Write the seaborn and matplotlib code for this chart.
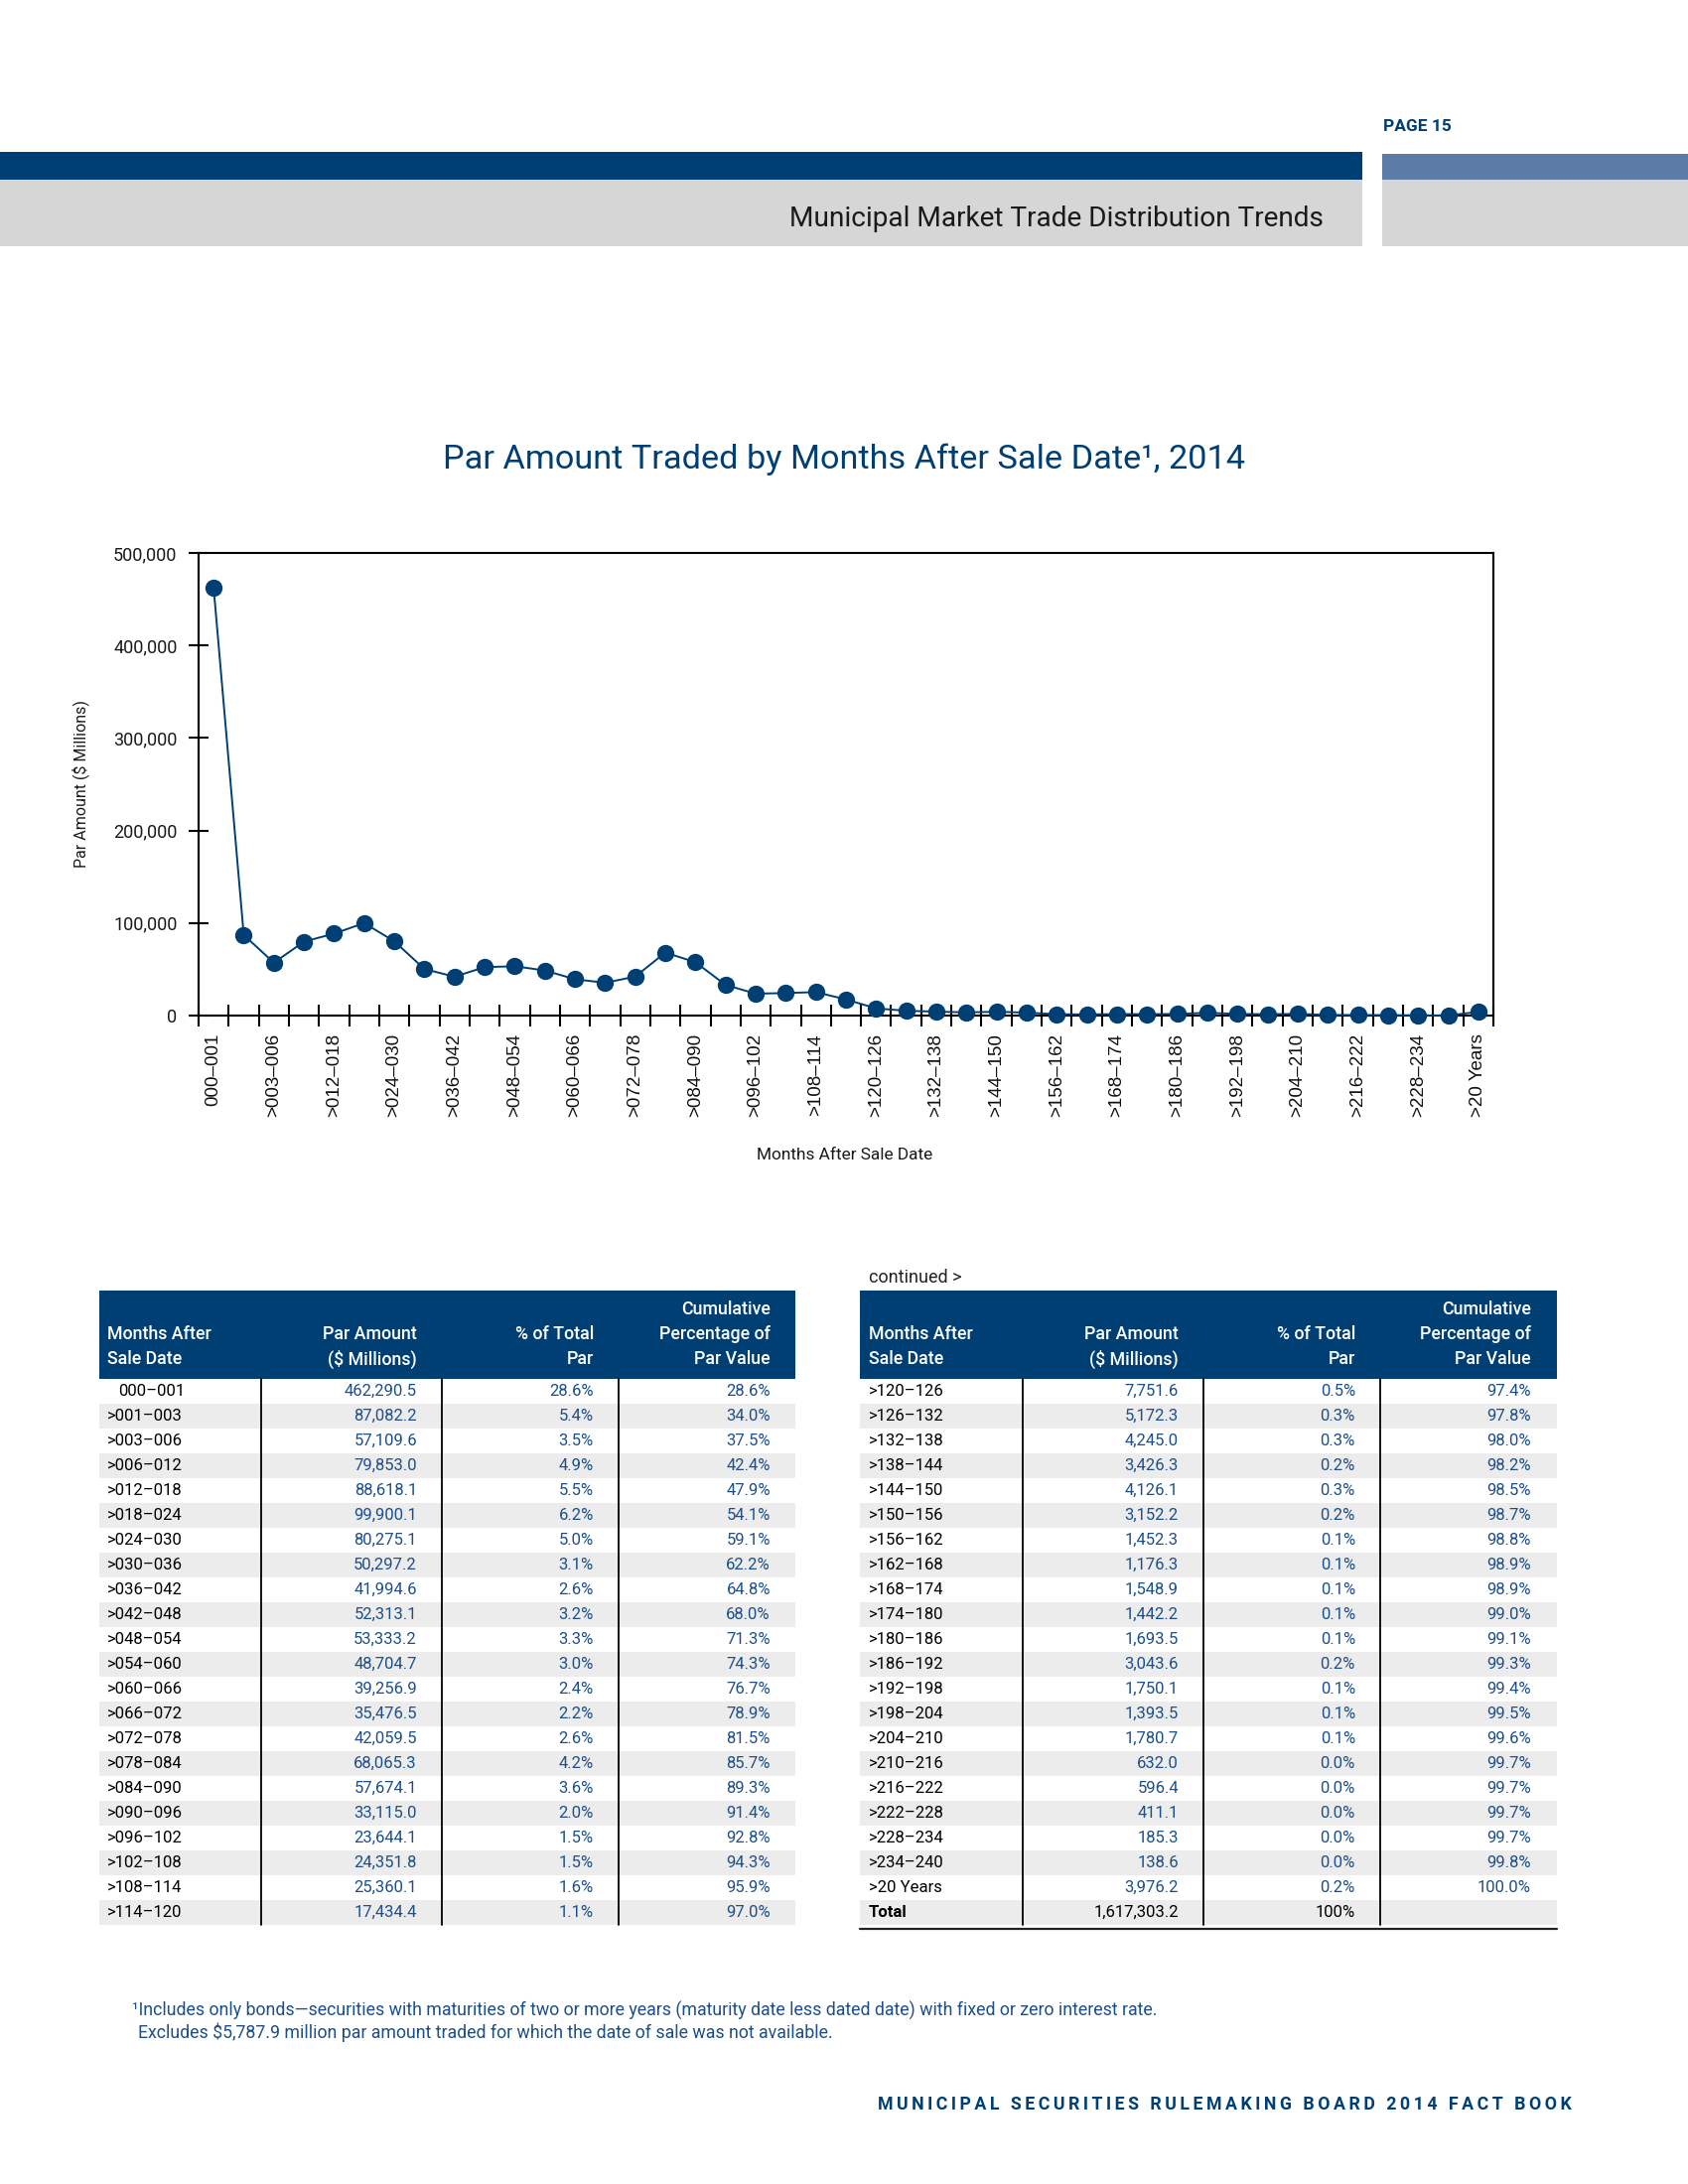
import matplotlib
matplotlib.use("Agg")
import matplotlib.pyplot as plt
import matplotlib.patches as mpatches
from matplotlib.ticker import FixedLocator, FuncFormatter
import pandas as pd
import seaborn as sns

# ---- data (read from the page) ----
months = ["000–001", ">001–003", ">003–006", ">006–012", ">012–018", ">018–024",
          ">024–030", ">030–036", ">036–042", ">042–048", ">048–054", ">054–060",
          ">060–066", ">066–072", ">072–078", ">078–084", ">084–090", ">090–096",
          ">096–102", ">102–108", ">108–114", ">114–120",
          ">120–126", ">126–132", ">132–138", ">138–144", ">144–150", ">150–156",
          ">156–162", ">162–168", ">168–174", ">174–180", ">180–186", ">186–192",
          ">192–198", ">198–204", ">204–210", ">210–216", ">216–222", ">222–228",
          ">228–234", ">234–240", ">20 Years"]
par_amount = [462290.5, 87082.2, 57109.6, 79853.0, 88618.1, 99900.1, 80275.1,
              50297.2, 41994.6, 52313.1, 53333.2, 48704.7, 39256.9, 35476.5,
              42059.5, 68065.3, 57674.1, 33115.0, 23644.1, 24351.8, 25360.1,
              17434.4,
              7751.6, 5172.3, 4245.0, 3426.3, 4126.1, 3152.2, 1452.3, 1176.3,
              1548.9, 1442.2, 1693.5, 3043.6, 1750.1, 1393.5, 1780.7, 632.0,
              596.4, 411.1, 185.3, 138.6, 3976.2]
pct_total = [28.6, 5.4, 3.5, 4.9, 5.5, 6.2, 5.0, 3.1, 2.6, 3.2, 3.3, 3.0, 2.4,
             2.2, 2.6, 4.2, 3.6, 2.0, 1.5, 1.5, 1.6, 1.1,
             0.5, 0.3, 0.3, 0.2, 0.3, 0.2, 0.1, 0.1, 0.1, 0.1, 0.1, 0.2, 0.1,
             0.1, 0.1, 0.0, 0.0, 0.0, 0.0, 0.0, 0.2]
cum_pct = [28.6, 34.0, 37.5, 42.4, 47.9, 54.1, 59.1, 62.2, 64.8, 68.0, 71.3,
           74.3, 76.7, 78.9, 81.5, 85.7, 89.3, 91.4, 92.8, 94.3, 95.9, 97.0,
           97.4, 97.8, 98.0, 98.2, 98.5, 98.7, 98.8, 98.9, 98.9, 99.0, 99.1,
           99.3, 99.4, 99.5, 99.6, 99.7, 99.7, 99.7, 99.7, 99.8, 100.0]
total_label = "Total"
total_par = "1,617,303.2"
total_pct = "100%"
yticks = [0, 100000, 200000, 300000, 400000, 500000]

NAVY = "#003f74"
STEEL = "#5b7ca6"
BAND = "#d6d6d6"
STRIPE = "#ececec"
NUMBLUE = "#1d4f8a"

sns.set_style("white")
plt.rcParams["font.family"] = ["Roboto", "DejaVu Sans"]

fig = plt.figure(figsize=(17, 22), dpi=100)

# page-level layer in pixel coordinates
bg = fig.add_axes([0, 0, 1, 1])
bg.set_xlim(0, 1700)
bg.set_ylim(2200, 0)
bg.axis("off")

# header bars
bg.add_patch(mpatches.Rectangle((0, 153), 1372, 28, color=NAVY, lw=0))
bg.add_patch(mpatches.Rectangle((1392, 155), 308, 26, color=STEEL, lw=0))
bg.add_patch(mpatches.Rectangle((0, 181), 1372, 67, color=BAND, lw=0))
bg.add_patch(mpatches.Rectangle((1392, 181), 308, 67, color=BAND, lw=0))
bg.text(1393, 127, "PAGE 15", fontsize=12.5, fontweight="bold", color=NAVY,
        ha="left", va="center")
bg.text(1333, 220, "Municipal Market Trade Distribution Trends", fontsize=20.2,
        color="#1a1a1a", ha="right", va="center")

# chart title and axis labels
bg.text(850, 463, "Par Amount Traded by Months After Sale Date¹, 2014",
        fontsize=24.7, color=NAVY, ha="center", va="center")
bg.text(81, 790, "Par Amount ($ Millions)", fontsize=11.5, rotation=90,
        ha="center", va="center", color="#1a1a1a")
bg.text(851, 1163, "Months After Sale Date", fontsize=12.4, ha="center",
        va="center", color="#1a1a1a")

# ---- line chart ----
ax = fig.add_axes([200 / 1700, 1 - 1023 / 2200, 1304 / 1700, 466 / 2200])
df = pd.DataFrame({"pos": range(len(months)), "par": par_amount})
sns.lineplot(data=df, x="pos", y="par", ax=ax, color=NAVY, lw=1.4,
             marker="o", markersize=12.5, markeredgewidth=0, clip_on=False,
             zorder=5)
ax.set_xlim(-0.5, len(months) - 0.5)
ax.set_ylim(yticks[0], yticks[-1])
ax.set_xlabel("")
ax.set_ylabel("")
ax.yaxis.set_major_locator(FixedLocator(yticks))
ax.yaxis.set_major_formatter(FuncFormatter(lambda v, p: f"{v:,.0f}"))
major_pos = list(range(0, len(months), 2))
ax.xaxis.set_major_locator(FixedLocator(major_pos))
ax.set_xticklabels([months[i] for i in major_pos], rotation=90,
                   family=["Liberation Sans", "DejaVu Sans"], fontsize=13.5)
ax.xaxis.set_minor_locator(FixedLocator([i - 0.5 for i in range(len(months) + 1)]))
ax.tick_params(axis="x", which="major", bottom=True, length=0, pad=13,
               colors="#111111")
ax.tick_params(axis="x", which="minor", bottom=True, direction="inout",
               length=16, width=1.5, color="black")
ax.tick_params(axis="y", which="major", left=True, direction="inout",
               length=15, width=1.5, color="black", labelsize=13, pad=8,
               labelcolor="#1a1a1a")
for s in ax.spines.values():
    s.set_visible(True)
    s.set_color("black")
    s.set_linewidth(1.5)


# ---- tables ----
def draw_table(x0, x1, seps, label_x, rights, labels, pars, pcts, cums,
               total=None, bottom_line=False):
    top, head_bot, rh = 1300, 1389, 25.0
    bg.add_patch(mpatches.Rectangle((x0, top), x1 - x0, head_bot - top,
                                    color=NAVY, lw=0))
    hdr = dict(fontsize=12.8, fontweight="medium", color="white", va="center")
    bg.text(label_x, 1344, "Months After", ha="left", **hdr)
    bg.text(label_x, 1369, "Sale Date", ha="left", **hdr)
    bg.text(rights[0], 1344, "Par Amount", ha="right", **hdr)
    bg.text(rights[0], 1369, "($ Millions)", ha="right", **hdr)
    bg.text(rights[1], 1344, "% of Total", ha="right", **hdr)
    bg.text(rights[1], 1369, "Par", ha="right", **hdr)
    bg.text(rights[2], 1319, "Cumulative", ha="right", **hdr)
    bg.text(rights[2], 1344, "Percentage of", ha="right", **hdr)
    bg.text(rights[2], 1369, "Par Value", ha="right", **hdr)

    rows = [(lab, f"{p:,.1f}", f"{q:.1f}%", f"{c:.1f}%", False)
            for lab, p, q, c in zip(labels, pars, pcts, cums)]
    if total is not None:
        rows.append((total[0], total[1], total[2], "", True))
    for i, (lab, p, q, c, is_total) in enumerate(rows):
        y0 = head_bot + i * rh
        if i % 2 == 1:
            bg.add_patch(mpatches.Rectangle((x0, y0), x1 - x0, rh,
                                            color=STRIPE, lw=0))
        yc = y0 + rh / 2
        lx = label_x if lab.startswith(">") or is_total else label_x + 11
        bg.text(lx, yc, lab, ha="left", va="center", fontsize=12,
                color="black", fontweight="bold" if is_total else "normal")
        col = "black" if is_total else NUMBLUE
        bg.text(rights[0], yc, p, ha="right", va="center", fontsize=12, color=col)
        bg.text(rights[1], yc, q, ha="right", va="center", fontsize=12, color=col)
        bg.text(rights[2], yc, c, ha="right", va="center", fontsize=12, color=col)
    bot = head_bot + len(rows) * rh
    for sx in seps:
        bg.plot([sx, sx], [head_bot, bot], color="black", lw=1.3)
    if bottom_line:
        bg.plot([x0, x1], [bot + 4, bot + 4], color="#222222", lw=1.6)


draw_table(100, 801, [263.5, 445, 623], 108, [420, 598, 776],
           months[:22], par_amount[:22], pct_total[:22], cum_pct[:22])
bg.text(875, 1287, "continued >", fontsize=13, color="#222222", ha="left",
        va="center")
draw_table(866, 1568, [1030, 1212, 1390], 875, [1187, 1365, 1542],
           months[22:], par_amount[22:], pct_total[22:], cum_pct[22:],
           total=(total_label, total_par, total_pct), bottom_line=True)

# footnote and footer
bg.text(133, 2025, "¹Includes only bonds—securities with maturities of two or more "
        "years (maturity date less dated date) with fixed or zero interest rate.",
        fontsize=12.8, color=NUMBLUE, ha="left", va="center")
bg.text(139, 2047, "Excludes $5,787.9 million par amount traded for which the "
        "date of sale was not available.", fontsize=12.8, color=NUMBLUE,
        ha="left", va="center")
footer = "MUNICIPAL SECURITIES RULEMAKING BOARD 2014 FACT BOOK"
# letter-spaced like the printed page
bg.text(1583, 2120, "\u200a\u200a".join(footer), fontsize=12.8,
        fontweight="bold", color=NAVY, ha="right", va="center")

fig.savefig("out.png", dpi=100)
